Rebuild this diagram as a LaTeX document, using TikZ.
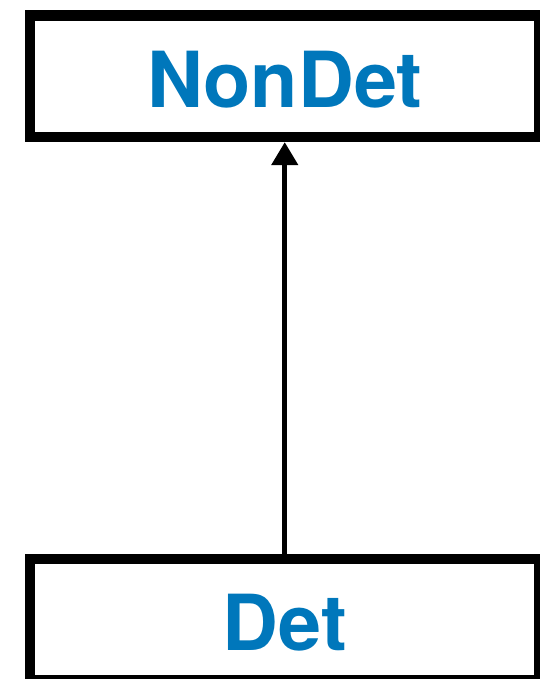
\documentclass[tikz,border=0pt]{standalone}
\usepackage{fontspec}
\setmainfont{TeX Gyre Heros}
\usetikzlibrary{arrows.meta}
\definecolor{classblue}{RGB}{0,119,187}
\begin{document}
\begin{tikzpicture}[x=0.02cm, y=0.02cm,
    classbox/.style={draw=black, line width=5.9pt, minimum width=10.19cm, minimum height=2.43cm,
      text=classblue, font=\fontsize{44}{53}\selectfont\bfseries, text height=1.26cm, text depth=0pt}]
          \useasboundingbox (0,0) rectangle (539,679);
          \node[classbox] (NonDet) at (284.75, 602.75) {NonDet};
          \node[classbox] (Det) at (284.75, 59.5) {Det};
          \draw[line width=2.7pt, -{Triangle[width=0.52cm, length=0.46cm]}] (Det) -- (NonDet);
        \end{tikzpicture}
\end{document}
